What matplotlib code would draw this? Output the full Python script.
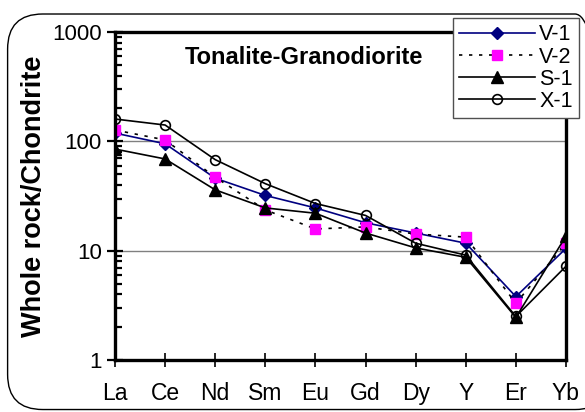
import matplotlib
matplotlib.use('Agg')
import matplotlib.pyplot as plt
from matplotlib.patches import FancyBboxPatch
from matplotlib.ticker import LogLocator, NullFormatter

elements = ['La', 'Ce', 'Nd', 'Sm', 'Eu', 'Gd', 'Dy', 'Y', 'Er', 'Yb']
v1 = [119, 95, 46, 32, 24.6, 18, 14.5, 11.7, 3.8, 10.5]
v2 = [127, 103, 47, 23.6, 15.8, 16.5, 14.2, 13.3, 3.3, 11.7]
s1 = [85, 69, 36, 24.6, 22, 14.5, 10.6, 8.7, 2.45, 13.6]
x1 = [160, 141, 68, 41, 27, 21, 11.7, 9.1, 2.5, 7.2]

plt.rcParams['font.family'] = ['Liberation Sans', 'DejaVu Sans']

fig = plt.figure(figsize=(5.85, 4.12), dpi=100)
ax = fig.add_axes([0.1966, 0.1262, 0.7709, 0.7961])

# rounded chart-area border
border = FancyBboxPatch((0.013, 0.006), 1.03, 0.96, boxstyle='round,pad=0,rounding_size=0.06',
                        transform=fig.transFigure, fill=False, ec='black', lw=1.0,
                        mutation_aspect=585 / 412)
fig.patches.append(border)

xs = range(len(elements))
ax.plot(xs, v1, color='#000080', lw=1.2, marker='D', ms=6.5, mfc='#000080', mec='#000080', label='V-1')
ax.plot(xs, v2, color='black', lw=1.2, ls=(0, (2, 4)), marker='s', ms=7.5, mfc='#FF00FF', mec='#FF00FF', label='V-2')
ax.plot(xs, s1, color='black', lw=1.2, marker='^', ms=8.5, mfc='black', mec='black', label='S-1')
ax.plot(xs, x1, color='black', lw=1.2, marker='o', ms=7, mfc='none', mec='black', mew=1.2, label='X-1')

ax.set_yscale('log')
ax.set_ylim(1, 1000)
ax.set_xlim(0, len(elements) - 1)
ax.set_xticks(list(xs))
ax.set_xticklabels(elements)
ax.yaxis.set_minor_locator(LogLocator(base=10, subs=range(2, 10)))
ax.yaxis.set_minor_formatter(NullFormatter())
ax.set_yticks([1, 10, 100, 1000])
ax.set_yticklabels(['1', '10', '100', '1000'])

ax.grid(axis='y', which='major', color='#808080', lw=1.0)
ax.set_axisbelow(True)
for sp in ax.spines.values():
    sp.set_linewidth(2.4)

ax.tick_params(axis='y', which='major', direction='inout', length=11, width=1.6, labelsize=16, pad=4)
ax.tick_params(axis='y', which='minor', direction='in', length=5, width=1.6)
ax.tick_params(axis='x', which='major', direction='inout', length=10, width=1.2, labelsize=16.5, pad=11)

ax.set_ylabel('Whole rock/Chondrite', fontsize=19.5, fontweight='bold', labelpad=4)
ax.text(185 / 585, 1 - 57 / 412, 'Tonalite-Granodiorite', transform=fig.transFigure,
        fontsize=17, fontweight='bold', va='center')

leg = ax.legend(loc='upper left', bbox_to_anchor=(453 / 585, 1 - 18 / 412), bbox_transform=fig.transFigure,
                fontsize=15.5, frameon=True, fancybox=False, edgecolor='#505050', handlelength=3.5,
                handletextpad=0.2, labelspacing=0.05, borderpad=0.3, borderaxespad=0, framealpha=1)
leg.get_frame().set_linewidth(1.0)

fig.savefig('out.png', dpi=100)
